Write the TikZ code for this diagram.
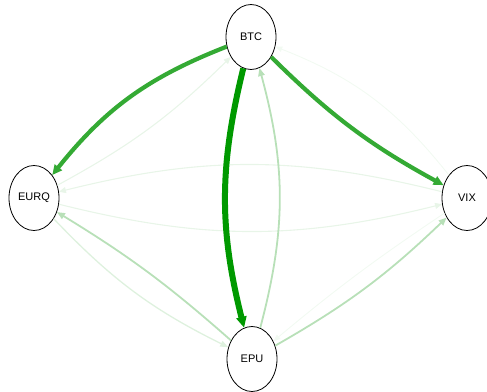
\documentclass[tikz,border=0pt]{standalone}
\usepackage{fontspec}
\setmainfont{Liberation Sans}
\usetikzlibrary{shapes.geometric, arrows.meta}
\definecolor{edgedark}{RGB}{0,153,0}
\definecolor{edgemid}{RGB}{52,170,52}
\definecolor{edgelight}{RGB}{184,224,184}
\definecolor{edgepale}{RGB}{222,241,222}
\definecolor{edgefaint}{RGB}{232,245,232}
\definecolor{edgeghost}{RGB}{242,250,242}
\begin{document}
\begin{tikzpicture}[x=1pt, y=-1pt,
		asset/.style={ellipse, draw, line width=0.8pt, fill=white, minimum width=50pt, minimum height=65pt, inner sep=0pt, font=\fontsize{11}{13}\selectfont},
		heavy/.style={draw=edgedark, line width=6pt, -{Triangle[length=11pt, width=10pt]}},
		strong/.style={draw=edgemid, line width=4.2pt, -{Triangle[length=10pt, width=9pt]}},
		weak/.style={draw=edgelight, line width=1.8pt, -{Triangle[length=8pt, width=6.5pt]}},
		pale/.style={draw=edgepale, line width=1.3pt, -{Triangle[length=8pt, width=6pt]}},
		faint/.style={draw=edgefaint, line width=1.1pt, -{Triangle[length=7pt, width=6pt]}},
		ghost/.style={draw=edgeghost, line width=0.9pt, -{Triangle[length=7pt, width=5.5pt]}}]
		\useasboundingbox (0,0) rectangle (487,391);
		\node (BTC) [asset] at (251,37) {BTC};
		\node (EURQ) [asset] at (34,198) {EURQ};
		\node (VIX) [asset] at (467,198) {VIX};
		\node (EPU) [asset] at (252,359) {EPU};
		%Kanten, alle nach rechts gebogen
		\draw [ghost] (VIX) to [bend right=15] (BTC);
		\draw [ghost] (VIX) to [bend right=3] (EPU);
		\draw [faint] (VIX) to [bend right=14] (EURQ);
		\draw [faint] (EURQ) to [bend right=14] (VIX);
		\draw [faint] (EURQ) to [bend right=8] (BTC);
		\draw [pale] (EURQ) to [bend right=10] (EPU);
		\draw [weak] (EPU) to [bend right=5] (EURQ);
		\draw [weak] (EPU) to [bend right=7] (VIX);
		\draw [weak] (EPU) to [bend right=15] (BTC);
		\draw [strong] (BTC) to [bend right=15] (EURQ);
		\draw [strong] (BTC) to [bend right=8] (VIX);
		\draw [heavy] (BTC) to [bend right=14] (EPU);
	\end{tikzpicture}
\end{document}
